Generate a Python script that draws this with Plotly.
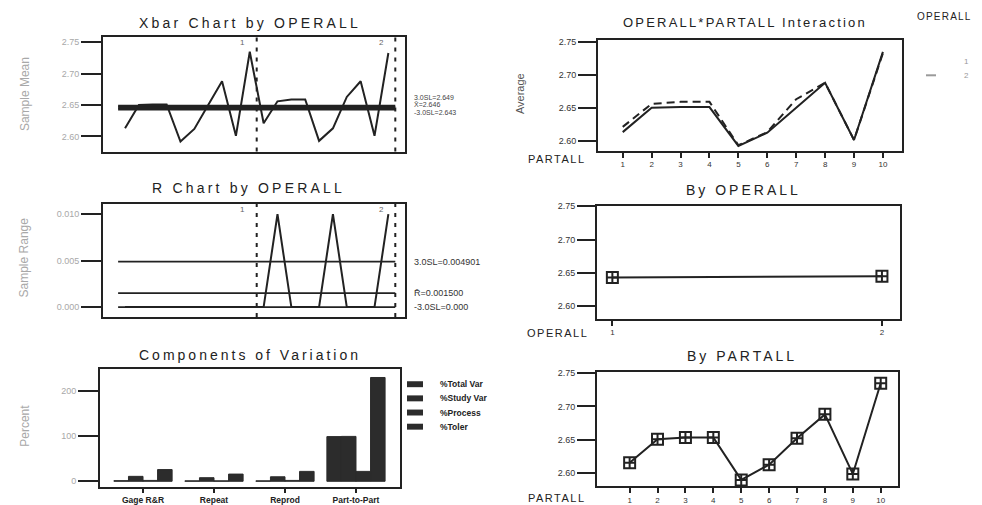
import plotly.graph_objects as go

# ---------------- data ----------------
parts = [1, 2, 3, 4, 5, 6, 7, 8, 9, 10]
operators = [1, 2]
op1_means = [2.613, 2.650, 2.651, 2.651, 2.592, 2.612, 2.650, 2.688, 2.601, 2.735]
op2_means = [2.621, 2.656, 2.659, 2.659, 2.593, 2.613, 2.663, 2.688, 2.601, 2.733]
op1_ranges = [0, 0, 0, 0, 0, 0, 0, 0, 0, 0]
op2_ranges = [0, 0.010, 0, 0, 0, 0.010, 0, 0, 0, 0.010]
xbar_limits = [2.6485, 2.646, 2.6435]          # UCL, centre, LCL
xbar_limit_labels = ["3.0SL=2.649", "X̄=2.646", "-3.0SL=2.643"]
r_limits = [0.004901, 0.001500, 0.0]            # UCL, Rbar, LCL
r_limit_labels = ["3.0SL=0.004901", "R̄=0.001500", "-3.0SL=0.000"]
components = ["Gage R&R", "Repeat", "Reprod", "Part-to-Part"]
pct_total_var = [1.5, 1.0, 1.0, 99.0]
pct_study_var = [11.0, 8.0, 10.0, 99.5]
pct_process = [2.0, 1.0, 2.0, 22.0]
pct_toler = [26.0, 16.0, 22.0, 230.0]
cov_series = ["%Total Var", "%Study Var", "%Process", "%Toler"]
operator_means = [2.643, 2.645]
part_means = [2.615, 2.6505, 2.653, 2.653, 2.589, 2.612, 2.652, 2.688, 2.598, 2.735]

W, H = 982, 505
FONT = "Liberation Sans"
INK = "#222222"
FAINT = "#a8a8a8"
BAR = "#2c2c2c"


def dx(a, b):
    return [a / W, b / W]


def dy(top, bottom):
    return [1 - bottom / H, 1 - top / H]


def px(x):
    return x / W


def py(y):
    return 1 - y / H


def spaced(text, sp):
    return f'<span style="letter-spacing:{sp}px">{text}</span>'


fig = go.Figure()

samples = list(range(1, 2 * len(parts) + 1))
xbar = op1_means + op2_means
ranges = op1_ranges + op2_ranges
lim_x = [0.5, len(samples) + 0.5]
line = dict(color=INK, width=2)

# ---- Xbar chart ----
fig.add_trace(go.Scatter(x=samples, y=xbar, mode="lines", line=line, xaxis="x", yaxis="y", showlegend=False))
for v in xbar_limits:
    fig.add_trace(go.Scatter(x=lim_x, y=[v, v], mode="lines", line=dict(color=INK, width=2.5),
                             xaxis="x", yaxis="y", showlegend=False))

# ---- R chart ----
fig.add_trace(go.Scatter(x=samples, y=ranges, mode="lines", line=line, xaxis="x2", yaxis="y2", showlegend=False))
for v in r_limits:
    fig.add_trace(go.Scatter(x=lim_x, y=[v, v], mode="lines", line=dict(color=INK, width=1.8),
                             xaxis="x2", yaxis="y2", showlegend=False))

# ---- Components of variation ----
for name, vals in zip(cov_series, [pct_total_var, pct_study_var, pct_process, pct_toler]):
    fig.add_trace(go.Bar(x=components, y=vals, name=name, marker=dict(color=BAR, line=dict(color=BAR, width=1)),
                         xaxis="x3", yaxis="y3", showlegend=False))

# ---- Interaction ----
fig.add_trace(go.Scatter(x=parts, y=op1_means, mode="lines", line=dict(color=INK, width=2),
                         xaxis="x4", yaxis="y4", showlegend=False))
fig.add_trace(go.Scatter(x=parts, y=op2_means, mode="lines", line=dict(color=INK, width=2, dash="8px,5px"),
                         xaxis="x4", yaxis="y4", showlegend=False))

# ---- By OPERALL ----
mk = dict(symbol="square-cross-open", size=11, color=INK, line=dict(color=INK, width=2))
fig.add_trace(go.Scatter(x=operators, y=operator_means, mode="lines+markers", line=line, marker=mk,
                         xaxis="x5", yaxis="y5", showlegend=False))

# ---- By PARTALL ----
fig.add_trace(go.Scatter(x=parts, y=part_means, mode="lines+markers", line=line, marker=mk,
                         xaxis="x6", yaxis="y6", showlegend=False))

frame = dict(showline=True, mirror=True, linecolor=INK, linewidth=2, showgrid=False, zeroline=False)
left_y = dict(frame, ticks="outside", ticklen=20, tickwidth=2, tickcolor=INK,
              tickfont=dict(family=FONT, size=9, color=FAINT))
right_y = dict(frame, ticks="outside", ticklen=18, tickwidth=2, tickcolor=INK,
               tickfont=dict(family=FONT, size=9, color="#333333"),
               tickvals=[2.60, 2.65, 2.70, 2.75], tickformat=".2f")
small_tick = dict(family=FONT, size=8, color="#333333")

fig.update_layout(
    width=W, height=H, margin=dict(l=0, r=0, t=0, b=0),
    paper_bgcolor="white", plot_bgcolor="white",
    barmode="group", bargap=0.18, bargroupgap=0,
    font=dict(family=FONT, color=INK),
    xaxis=dict(frame, domain=dx(103, 405), range=[-0.59, 21.2], showticklabels=False, anchor="y"),
    yaxis=dict(left_y, domain=dy(32, 148), range=[2.576, 2.759], tickvals=[2.60, 2.65, 2.70, 2.75],
               tickformat=".2f", anchor="x"),
    xaxis2=dict(frame, domain=dx(103, 405), range=[-0.59, 21.2], showticklabels=False, anchor="y2"),
    yaxis2=dict(left_y, domain=dy(201, 315), range=[-0.00106, 0.0111], tickvals=[0, 0.005, 0.010],
                tickformat=".3f", anchor="x2"),
    xaxis3=dict(frame, domain=dx(100, 400), range=[-0.606, 3.62], ticks="outside", ticklen=4, tickwidth=2,
                tickcolor=INK, tickfont=dict(family=FONT, size=8.5, color=INK, weight="bold"), anchor="y3"),
    yaxis3=dict(left_y, domain=dy(368, 487), range=[-13, 248], tickvals=[0, 100, 200], anchor="x3"),
    xaxis4=dict(frame, domain=dx(598, 902), range=[0.145, 10.66], tickvals=parts, ticks="outside", ticklen=5,
                tickwidth=1.5, tickcolor=INK, tickfont=small_tick, anchor="y4"),
    yaxis4=dict(right_y, domain=dy(35, 147), range=[2.585, 2.7535], anchor="x4"),
    xaxis5=dict(frame, domain=dx(597, 900), range=[0.943, 2.067], tickvals=operators, ticks="outside", ticklen=5,
                tickwidth=1.5, tickcolor=INK, tickfont=small_tick, anchor="y5"),
    yaxis5=dict(right_y, domain=dy(203, 317), range=[2.581, 2.7505], anchor="x5"),
    xaxis6=dict(frame, domain=dx(597, 898), range=[-0.17, 10.62], tickvals=parts, ticks="outside", ticklen=5,
                tickwidth=1.5, tickcolor=INK, tickfont=small_tick, anchor="y6"),
    yaxis6=dict(right_y, domain=dy(371, 486), range=[2.5795, 2.7515], anchor="x6"),
)

# operator separators in Xbar / R charts
shapes = []
for xa, ya in [("x", "y"), ("x2", "y2")]:
    for k in operators:
        shapes.append(dict(type="line", xref=xa, yref=ya + " domain", x0=k * len(parts) + 0.5,
                           x1=k * len(parts) + 0.5, y0=0, y1=1, line=dict(color=INK, width=2, dash="4px,6px")))

anns = []


def ann(text, x, y, size=10, color=INK, xanchor="center", **kw):
    anns.append(dict(text=text, x=x, y=y, xref=kw.pop("xref", "paper"), yref=kw.pop("yref", "paper"),
                     showarrow=False, xanchor=xanchor, yanchor=kw.pop("yanchor", "middle"),
                     font=dict(family=FONT, size=size, color=color, weight=kw.pop("weight", "normal")), **kw))


# titles
ann(spaced("Xbar Chart by OPERALL", 3.2), px(250), py(18), size=14)
ann(spaced("R Chart by OPERALL", 3.2), px(249), py(185), size=14)
ann(spaced("Components of Variation", 3.0), px(250), py(354), size=14)
ann(spaced("OPERALL*PARTALL Interaction", 2.2), px(745), py(18), size=13)
ann(spaced("By OPERALL", 3.0), px(743), py(187), size=14)
ann(spaced("By PARTALL", 3.0), px(742), py(355), size=14)

# y titles (faint, left)
ann("Sample Mean", px(25), py(90), size=12, color=FAINT, textangle=-90)
ann("Sample Range", px(24), py(255), size=12, color=FAINT, textangle=-90)
ann("Percent", px(25), py(425), size=12, color=FAINT, textangle=-90)
ann("Average", px(520), py(90), size=11, color="#555555", textangle=-90)

# x axis labels on the right
ann(spaced("PARTALL", 1.5), px(557), py(156), size=11)
ann(spaced("OPERALL", 1.5), px(557), py(331), size=11)
ann(spaced("PARTALL", 1.5), px(557), py(498), size=11)

# control-limit labels (stacked tightly, as in the reference)
for lab, dyv in zip(xbar_limit_labels, [-8, 0, 8]):
    ann(lab, px(412), py(101 + dyv), size=7, color="#444444", xanchor="left")
for lab, v in zip(r_limit_labels, r_limits):
    ann(lab, px(412), v, size=9, color="#333333", xanchor="left", yref="y2")

# operator labels at top of Xbar / R charts
for xa, ya in [("x", "y"), ("x2", "y2")]:
    for k in operators:
        ann(str(k), k * len(parts) - 0.5, 0.95, size=8, color="#666666", xref=xa, yref=ya + " domain")

# interaction legend
ann(spaced("OPERALL", 1.2), px(944), py(12), size=10)
ann("1", px(966), py(57), size=8, color="#999999")
ann("2", px(966), py(71), size=8, color="#999999")
shapes.append(dict(type="line", xref="paper", yref="paper", x0=px(926), x1=px(936), y0=py(71), y1=py(71),
                   line=dict(color="#9a9a9a", width=2)))

# components legend
for i, name in enumerate(cov_series):
    yc = 383 + i * 14.3
    shapes.append(dict(type="rect", xref="paper", yref="paper", x0=px(407), x1=px(423), y0=py(yc + 3),
                       y1=py(yc - 3), fillcolor=BAR, line=dict(width=0)))
    ann(name, px(438), py(yc), size=8.5, xanchor="left", weight="bold")

fig.update_layout(shapes=shapes, annotations=anns)
fig.write_html("out.html")
